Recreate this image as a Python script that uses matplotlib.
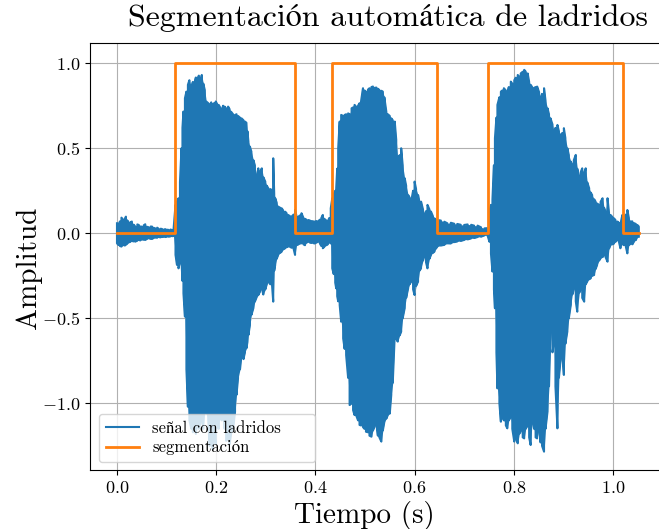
import matplotlib
matplotlib.use('Agg')
import matplotlib.pyplot as plt

plt.rcParams['font.family'] = ['cmr10', 'STIXGeneral', 'DejaVu Serif']
plt.rcParams['mathtext.fontset'] = 'cm'
plt.rcParams['axes.formatter.use_mathtext'] = True

env_t = [0.000, 0.003, 0.006, 0.009, 0.013, 0.016, 0.018, 0.021, 0.024, 0.027, 0.030, 0.034, 0.037, 0.041,
         0.044, 0.047, 0.050, 0.054, 0.057, 0.061, 0.064, 0.068, 0.071, 0.074, 0.077, 0.081, 0.084, 0.088,
         0.091, 0.095, 0.098, 0.101, 0.104, 0.108, 0.111, 0.114,
         0.118, 0.121, 0.124, 0.127, 0.130, 0.132, 0.134, 0.137, 0.140, 0.143, 0.146, 0.150, 0.153, 0.156,
         0.159, 0.162, 0.165, 0.168, 0.171, 0.174, 0.177, 0.180, 0.184, 0.187, 0.190, 0.193, 0.196, 0.199,
         0.202, 0.205, 0.208, 0.211, 0.214, 0.217, 0.220, 0.224, 0.227, 0.230, 0.234, 0.238, 0.241, 0.244,
         0.248, 0.251, 0.255, 0.258, 0.261, 0.263, 0.265, 0.268, 0.271, 0.275, 0.278, 0.281, 0.285, 0.288,
         0.292, 0.295, 0.299, 0.302, 0.305, 0.309, 0.312, 0.315, 0.317, 0.319, 0.322, 0.325, 0.329, 0.332,
         0.335, 0.339, 0.342, 0.345, 0.349, 0.352, 0.356, 0.359, 0.362, 0.366, 0.369, 0.372, 0.376, 0.379,
         0.382, 0.386, 0.389, 0.392, 0.396, 0.399, 0.402, 0.405, 0.409, 0.412, 0.415, 0.418, 0.422, 0.425,
         0.428, 0.431, 0.434,
         0.437, 0.440, 0.442, 0.444, 0.446, 0.449, 0.452, 0.456, 0.459, 0.462, 0.466, 0.469, 0.473, 0.476,
         0.479, 0.482, 0.486, 0.489, 0.492, 0.496, 0.499, 0.502, 0.506, 0.509, 0.513, 0.516, 0.519, 0.523,
         0.526, 0.529, 0.533, 0.536, 0.539, 0.543, 0.546, 0.550, 0.553, 0.556, 0.560, 0.563, 0.566, 0.570,
         0.573, 0.576, 0.580, 0.583, 0.587, 0.590, 0.593, 0.597, 0.600, 0.603, 0.607, 0.610, 0.613, 0.617,
         0.620, 0.623, 0.626, 0.630, 0.633, 0.637, 0.640, 0.643,
         0.646, 0.653, 0.660, 0.666, 0.673, 0.680, 0.686, 0.693, 0.700, 0.707, 0.714, 0.720, 0.727, 0.734,
         0.741, 0.747,
         0.751, 0.754, 0.757, 0.760, 0.762, 0.765, 0.767, 0.771, 0.774, 0.777, 0.780, 0.784, 0.787, 0.790,
         0.794, 0.797, 0.801, 0.804, 0.808, 0.811, 0.814, 0.818, 0.821, 0.824, 0.828, 0.831, 0.834, 0.837,
         0.841, 0.844, 0.847, 0.851, 0.854, 0.857, 0.861, 0.864, 0.868, 0.871, 0.874, 0.878, 0.881, 0.884,
         0.888, 0.891, 0.894, 0.898, 0.901, 0.904, 0.908, 0.911, 0.915, 0.918, 0.921, 0.925, 0.928, 0.932,
         0.935, 0.938, 0.942, 0.945, 0.948, 0.952, 0.955, 0.958, 0.962, 0.965, 0.968, 0.972, 0.975, 0.979,
         0.982, 0.985, 0.989, 0.992, 0.995, 0.999, 1.002, 1.005, 1.009, 1.012, 1.015, 1.019, 1.022, 1.026,
         1.029, 1.032, 1.036, 1.039, 1.042, 1.046, 1.049, 1.052]
env_up = [0.059, 0.049, 0.070, 0.092, 0.078, 0.085, 0.098, 0.075, 0.059, 0.065, 0.069, 0.050, 0.039, 0.052,
          0.049, 0.040, 0.039, 0.047, 0.053, 0.038, 0.035, 0.040, 0.039, 0.032, 0.029, 0.033, 0.026, 0.027,
          0.025, 0.023, 0.024, 0.021, 0.020, 0.022, 0.019, 0.021,
          0.167, 0.186, 0.206, 0.300, 0.500, 0.620, 0.716, 0.794, 0.833, 0.873, 0.900, 0.860, 0.890, 0.880,
          0.916, 0.900, 0.927, 0.890, 0.931, 0.880, 0.843, 0.775, 0.765, 0.755, 0.770, 0.760, 0.765, 0.775,
          0.760, 0.755, 0.740, 0.725, 0.750, 0.745, 0.735, 0.745, 0.730, 0.715, 0.700, 0.696, 0.700, 0.690,
          0.680, 0.676, 0.665, 0.657, 0.650, 0.600, 0.539, 0.510, 0.480, 0.430, 0.400, 0.330, 0.382, 0.360,
          0.382, 0.330, 0.304, 0.280, 0.265, 0.260, 0.255, 0.441, 0.230, 0.206, 0.180, 0.157, 0.150, 0.147,
          0.135, 0.127, 0.118, 0.108, 0.100, 0.098, 0.110, 0.137, 0.100, 0.098, 0.105, 0.118, 0.090, 0.085,
          0.080, 0.078, 0.075, 0.072, 0.070, 0.069, 0.072, 0.069, 0.080, 0.090, 0.108, 0.085, 0.075, 0.070,
          0.090, 0.147, 0.206,
          0.230, 0.250, 0.265, 0.380, 0.500, 0.657, 0.696, 0.690, 0.696, 0.700, 0.705, 0.700, 0.735, 0.740,
          0.755, 0.745, 0.750, 0.765, 0.775, 0.853, 0.840, 0.833, 0.845, 0.853, 0.860, 0.863, 0.855, 0.857,
          0.850, 0.843, 0.838, 0.833, 0.800, 0.716, 0.700, 0.690, 0.676, 0.665, 0.657, 0.550, 0.441, 0.460,
          0.500, 0.400, 0.324, 0.280, 0.225, 0.210, 0.186, 0.250, 0.304, 0.260, 0.225, 0.180, 0.186, 0.140,
          0.108, 0.130, 0.167, 0.140, 0.128, 0.100, 0.088, 0.080,
          0.078, 0.075, 0.068, 0.059, 0.062, 0.056, 0.055, 0.050, 0.049, 0.052, 0.050, 0.045, 0.045, 0.035,
          0.029, 0.030,
          0.127, 0.167, 0.200, 0.400, 0.559, 0.680, 0.755, 0.800, 0.833, 0.840, 0.853, 0.840, 0.824, 0.860,
          0.892, 0.880, 0.900, 0.915, 0.931, 0.920, 0.940, 0.950, 0.961, 0.951, 0.940, 0.890, 0.873, 0.860,
          0.855, 0.860, 0.863, 0.830, 0.794, 0.820, 0.853, 0.780, 0.735, 0.700, 0.676, 0.640, 0.598, 0.620,
          0.637, 0.600, 0.578, 0.590, 0.618, 0.560, 0.500, 0.460, 0.422, 0.400, 0.430, 0.461, 0.380, 0.324,
          0.360, 0.382, 0.350, 0.382, 0.300, 0.265, 0.240, 0.225, 0.200, 0.186, 0.175, 0.167, 0.185, 0.206,
          0.150, 0.127, 0.206, 0.120, 0.108, 0.095, 0.088, 0.078, 0.069, 0.060, 0.055, 0.108, 0.090, 0.110,
          0.137, 0.090, 0.069, 0.070, 0.060, 0.055, 0.049, 0.040]
env_lo = [-0.059, -0.069, -0.075, -0.078, -0.069, -0.072, -0.067, -0.060, -0.053, -0.050, -0.045, -0.048,
          -0.049, -0.043, -0.039, -0.042, -0.036, -0.038, -0.039, -0.032, -0.029, -0.033, -0.033, -0.027,
          -0.025, -0.026, -0.022, -0.024, -0.022, -0.020, -0.022, -0.019, -0.020, -0.018, -0.017, -0.016,
          -0.127, -0.186, -0.206, -0.170, -0.157, -0.280, -0.353, -0.490, -0.800, -1.020, -1.100, -1.150,
          -1.170, -1.120, -1.180, -1.100, -1.150, -1.120, -1.080, -1.150, -1.050, -1.060, -1.100, -1.250,
          -1.200, -1.270, -1.180, -1.240, -1.100, -1.150, -1.060, -1.100, -1.040, -1.150, -1.220, -1.210,
          -1.240, -1.180, -1.150, -1.050, -0.950, -0.853, -0.800, -0.716, -0.740, -0.700, -0.676, -0.640,
          -0.598, -0.540, -0.480, -0.440, -0.402, -0.380, -0.363, -0.345, -0.324, -0.360, -0.330, -0.300,
          -0.284, -0.300, -0.280, -0.402, -0.220, -0.186, -0.150, -0.127, -0.115, -0.108, -0.095, -0.088,
          -0.082, -0.078, -0.080, -0.085, -0.090, -0.127, -0.070, -0.065, -0.060, -0.059, -0.065, -0.070,
          -0.055, -0.049, -0.055, -0.057, -0.058, -0.060, -0.055, -0.050, -0.060, -0.075, -0.088, -0.080,
          -0.070, -0.065, -0.050, -0.060, -0.206,
          -0.240, -0.290, -0.324, -0.370, -0.400, -0.422, -0.520, -0.618, -0.680, -0.716, -0.850, -1.010,
          -1.000, -1.040, -1.069, -1.069, -1.100, -1.127, -1.130, -1.140, -1.150, -1.167, -1.170, -1.190,
          -1.196, -1.160, -1.140, -1.120, -1.190, -1.200, -1.225, -1.160, -1.110, -1.090, -1.069, -1.060,
          -0.950, -0.880, -0.598, -0.620, -0.637, -0.600, -0.578, -0.500, -0.441, -0.380, -0.324, -0.300,
          -0.284, -0.330, -0.363, -0.310, -0.284, -0.220, -0.206, -0.160, -0.127, -0.170, -0.206, -0.150,
          -0.127, -0.115, -0.108, -0.090,
          -0.078, -0.072, -0.068, -0.059, -0.060, -0.052, -0.048, -0.045, -0.039, -0.036, -0.030, -0.028,
          -0.022, -0.020, -0.012, -0.012,
          -0.050, -0.120, -0.225, -0.330, -0.441, -0.700, -0.912, -1.000, -1.108, -1.080, -1.100, -1.130,
          -1.147, -1.100, -1.080, -1.150, -1.225, -1.200, -1.235, -1.180, -1.160, -1.200, -1.206, -1.150,
          -1.130, -1.200, -1.245, -1.100, -1.150, -1.200, -1.206, -1.150, -1.230, -1.250, -1.284, -1.150,
          -1.049, -0.900, -0.559, -0.700, -0.640, -0.900, -1.147, -0.850, -0.755, -0.720, -0.833, -0.650,
          -0.578, -0.500, -0.420, -0.360, -0.324, -0.400, -0.461, -0.350, -0.324, -0.380, -0.402, -0.300,
          -0.284, -0.270, -0.265, -0.250, -0.245, -0.210, -0.186, -0.160, -0.147, -0.140, -0.127, -0.140,
          -0.167, -0.090, -0.069, -0.065, -0.060, -0.050, -0.039, -0.050, -0.088, -0.060, -0.070, -0.080,
          -0.118, -0.070, -0.060, -0.065, -0.050, -0.040, -0.020, -0.020]

# Segmentation (0/1) switching times
seg_t = [0.0, 0.116, 0.359, 0.434, 0.6445, 0.749, 1.020, 1.052]
seg_v = [0, 1, 0, 1, 0, 1, 0, 0]

x_ticks = [0.0, 0.2, 0.4, 0.6, 0.8, 1.0]
y_ticks = [-1.0, -0.5, 0.0, 0.5, 1.0]

# oscillating trace that sweeps between the envelope extremes
trace_t, trace_y = [], []
for i, (t, u, l) in enumerate(zip(env_t, env_up, env_lo)):
    trace_t += [t, t]
    trace_y += [u, l] if i % 2 == 0 else [l, u]

W, H = 659, 529
fig = plt.figure(figsize=(W / 100, H / 100), dpi=100)
ax = fig.add_axes([90 / W, 59 / H, 581 / W, 427 / H])

blue = '#1f77b4'
orange = '#ff7f0e'
ax.fill_between(env_t, env_lo, env_up, color=blue, lw=0)
ax.plot(trace_t, trace_y, color=blue, lw=1.5, label='señal con ladridos')
ax.plot(seg_t, seg_v, drawstyle='steps-post', color=orange, lw=2, label='segmentación')

ax.set_xlim(-0.0544, -0.0544 + 581 / 496)
ax.set_ylim(-1.392, 1.119)
ax.set_xticks(x_ticks)
ax.set_yticks(y_ticks)
ax.grid(True)
ax.tick_params(labelsize=13)

ax.set_xlabel('Tiempo (s)', fontsize=21)
ax.xaxis.set_label_coords(0.473, -0.072)
ax.set_ylabel('Amplitud', fontsize=21)
ax.yaxis.set_label_coords(-0.083, 0.473)
ax.set_title('Segmentación automática de ladridos', fontsize=23, pad=12, x=(388.5 - 90) / 581)
ax.legend(loc='lower left', bbox_to_anchor=(9 / 581, 8 / 427, 216 / 581, 0.1), mode='expand',
          borderaxespad=0, fontsize=12, labelspacing=0.25)

fig.savefig('out.png', dpi=100)
